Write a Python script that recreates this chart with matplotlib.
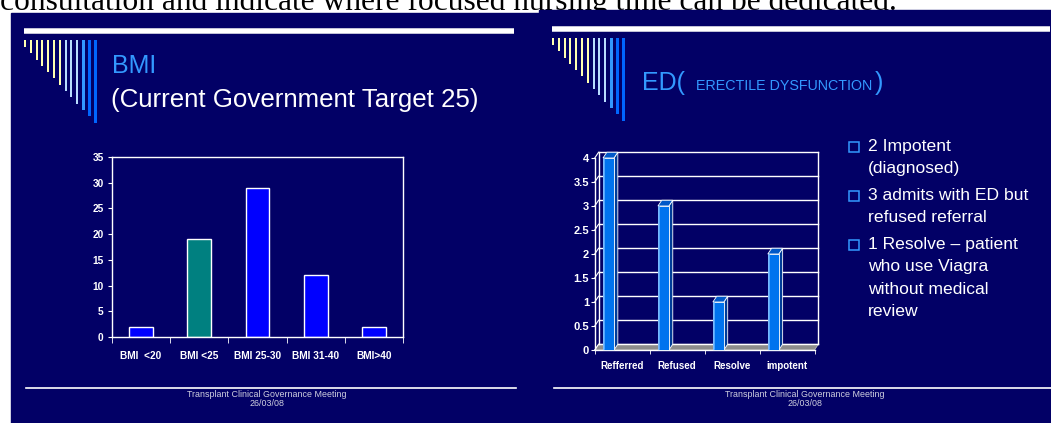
import numpy as np
import matplotlib
matplotlib.use("Agg")
import matplotlib.pyplot as plt
from matplotlib.patches import Rectangle, Polygon

plt.rcParams['font.family'] = ['Liberation Sans', 'DejaVu Sans']

# ------------------------------
# Data
# ------------------------------
bmi_labels = ["BMI  <20", "BMI <25", "BMI 25-30", "BMI 31-40", "BMI>40"]
bmi_values = [2, 19, 29, 12, 2]
bmi_colors = ["#0000ff", "#008080", "#0000ff", "#0000ff", "#0000ff"]
bmi_yticks = [0, 5, 10, 15, 20, 25, 30, 35]

ed_labels = ["Refferred", "Refused", "Resolve", "impotent"]
ed_values = [4, 3, 1, 2]
ed_yticks = [0, 0.5, 1, 1.5, 2, 2.5, 3, 3.5, 4]
ed_ytick_labels = ["0", "0.5", "1", "1.5", "2", "2.5", "3", "3.5", "4"]

ed_bullets = [
    ["2 Impotent", "(diagnosed)"],
    ["3 admits with ED but", "refused referral"],
    ["1 Resolve \u2013 patient", "who use Viagra", "without medical", "review"],
]

top_text = "consultation and indicate where focused nursing time can be dedicated."
footer = "Transplant Clinical Governance Meeting\n26/03/08"

NAVY = "#020066"
LIGHT_BLUE = "#3399ff"
W, H = 1051, 423

fig = plt.figure(figsize=(W / 100, H / 100), dpi=100)
fig.patch.set_facecolor("white")

# ------------------------------
# Background overlay in pixel coordinates
# ------------------------------
bg = fig.add_axes([0, 0, 1, 1], zorder=0)
bg.set_xlim(0, W)
bg.set_ylim(H, 0)
bg.axis("off")

bg.text(0, 10, top_text, fontsize=22.7, family="Liberation Serif", color="black",
        va="baseline", ha="left", zorder=1)
bg.add_patch(Rectangle((11, 13), W - 11, H - 13, color=NAVY, zorder=2))
bg.add_patch(Rectangle((539, 10), W - 539, 10, color=NAVY, zorder=2))


def slide_decor(x0, line_y, line_x1, stripe_top):
    # header line
    bg.plot([x0, line_x1], [line_y, line_y], color="#ccccdd", lw=4.2, zorder=3,
            solid_capstyle="butt")
    bg.plot([x0, line_x1], [line_y, line_y], color="white", lw=3, zorder=3,
            solid_capstyle="butt")
    # stripes
    cols = ["#ffffb0"] * 7 + ["#b8dcff"] * 3 + ["#3399ff", "#0066ff", "#0066ff"]
    for k, c in enumerate(cols):
        xs = x0 + k * 5.8
        length = 7 + k * 6.3
        w = 2 if k < 10 else 3
        bg.add_patch(Rectangle((xs, stripe_top), w, length, color=c, zorder=3, lw=0))


slide_decor(24, 31, 514, 40)
slide_decor(552, 29, 1050, 38)

# footers
bg.plot([26, 516], [388, 388], color="white", lw=1.2, zorder=3)
bg.plot([554, 1051], [388, 388], color="white", lw=1.2, zorder=3)
bg.text(267, 399, footer, fontsize=6.4, color="#d0d0e0", ha="center", va="center",
        linespacing=1.0, zorder=3)
bg.text(805, 399, footer, fontsize=6.4, color="#d0d0e0", ha="center", va="center",
        linespacing=1.0, zorder=3)

# titles
bg.text(112, 66, "BMI", fontsize=18, color=LIGHT_BLUE, va="center", zorder=3)
bg.text(111, 100, "(Current Government Target 25)", fontsize=18.6, color="white",
        va="center", zorder=3)
bg.text(642, 83, "ED(", fontsize=18, color=LIGHT_BLUE, va="center", zorder=3)
bg.text(696, 86, "ERECTILE DYSFUNCTION", fontsize=10.3, color=LIGHT_BLUE,
        va="center", zorder=3)
bg.text(875, 83, ")", fontsize=18, color=LIGHT_BLUE, va="center", zorder=3)

# bullet list
y = 147
for para in ed_bullets:
    bg.plot([854], [y], marker="s", ms=6.5, mfc="none", mec=LIGHT_BLUE, mew=1.1, zorder=3)
    for line in para:
        bg.text(868, y, line, fontsize=12.6, color="white", va="center", zorder=3)
        y += 22
    y += 5

# ------------------------------
# BMI bar chart
# ------------------------------
ax1 = fig.add_axes([112 / W, 1 - 337 / H, 291 / W, 180 / H], zorder=1)
ax1.set_facecolor("none")
x = np.arange(len(bmi_values))
ax1.bar(x, bmi_values, width=0.41, color=bmi_colors, edgecolor="white", lw=1)
ax1.set_xlim(-0.5, len(bmi_values) - 0.5)
ax1.set_ylim(0, 35)
ax1.set_yticks(bmi_yticks)
ax1.set_xticks(x)
ax1.set_xticklabels(bmi_labels)
ax1.set_xticks(np.arange(-0.5, len(bmi_values)), minor=True)
ax1.tick_params(axis="x", which="major", length=0, pad=10)
ax1.tick_params(axis="x", which="minor", length=4, direction="out", color="white")
ax1.tick_params(axis="y", length=3, direction="out", color="white", pad=3)
for lab in ax1.get_xticklabels() + ax1.get_yticklabels():
    lab.set_color("white")
    lab.set_fontweight("bold")
    lab.set_fontsize(7.3)
for s in ax1.spines.values():
    s.set_color("white")
    s.set_linewidth(1)

# ------------------------------
# ED pseudo-3D bar chart
# ------------------------------
dx, dy = 0.07, 0.12
ax2 = fig.add_axes([592 / W, 1 - 354.8 / H, 228 / W, 206.4 / H], zorder=1)
ax2.set_facecolor("none")
ax2.set_xlim(-0.55, 3.6)
ax2.set_ylim(-0.1, 4.2)
n = len(ed_values)

# floor
ax2.add_patch(Polygon([(-0.5, 0), (n - 0.5, 0), (n - 0.5 + dx, dy), (-0.5 + dx, dy)],
                      closed=True, facecolor="#8c8c8c", edgecolor="#bbbbbb", lw=0.6, zorder=1))
# back wall grid
for v in ed_yticks:
    ax2.plot([-0.5 + dx, n - 0.5 + dx], [v + dy, v + dy], color="white", lw=1, zorder=1)
    ax2.plot([-0.5, -0.5 + dx], [v, v + dy], color="white", lw=0.8, zorder=1)
ax2.plot([-0.5 + dx, -0.5 + dx], [dy, ed_yticks[-1] + dy], color="white", lw=1, zorder=1)
ax2.plot([n - 0.5 + dx, n - 0.5 + dx], [dy, ed_yticks[-1] + dy], color="white", lw=1, zorder=1)

# bars
bw = 0.2
for i, v in enumerate(ed_values):
    x0 = i - 0.35
    x1 = x0 + bw
    ax2.add_patch(Polygon([(x1, 0), (x1 + dx, dy), (x1 + dx, v + dy), (x1, v)],
                          closed=True, facecolor="#003c99", edgecolor="white", lw=0.6, zorder=3))
    ax2.add_patch(Polygon([(x0, v), (x1, v), (x1 + dx, v + dy), (x0 + dx, v + dy)],
                          closed=True, facecolor="#0058c8", edgecolor="white", lw=0.6, zorder=3))
    ax2.add_patch(Rectangle((x0, 0), bw, v, facecolor="#0073ee", edgecolor="white",
                            lw=0.6, zorder=3))
    ax2.plot([x0 + 0.02, x0 + 0.02], [0.02, v - 0.02], color="#66b2ff", lw=1.2, zorder=4)

ax2.spines["top"].set_visible(False)
ax2.spines["right"].set_visible(False)
ax2.spines["left"].set_position(("data", -0.5))
ax2.spines["bottom"].set_position(("data", 0))
ax2.spines["left"].set_bounds(0, 4)
ax2.spines["bottom"].set_bounds(-0.5, n - 0.5)
for s in ["left", "bottom"]:
    ax2.spines[s].set_color("white")
    ax2.spines[s].set_linewidth(1)
ax2.set_yticks(ed_yticks)
ax2.set_yticklabels(ed_ytick_labels)
ax2.set_xticks(np.arange(n))
ax2.set_xticklabels(ed_labels)
ax2.set_xticks(np.arange(-0.5, n), minor=True)
ax2.tick_params(axis="x", which="major", length=0, pad=8)
ax2.tick_params(axis="x", which="minor", length=3, direction="out", color="white")
ax2.tick_params(axis="y", length=3, direction="out", color="white", pad=1)
for lab in ax2.get_yticklabels():
    lab.set_color("white")
    lab.set_fontweight("bold")
    lab.set_fontsize(8)
for lab in ax2.get_xticklabels():
    lab.set_color("white")
    lab.set_fontweight("bold")
    lab.set_fontsize(7)

fig.savefig("out.png", dpi=100, facecolor=fig.get_facecolor())
